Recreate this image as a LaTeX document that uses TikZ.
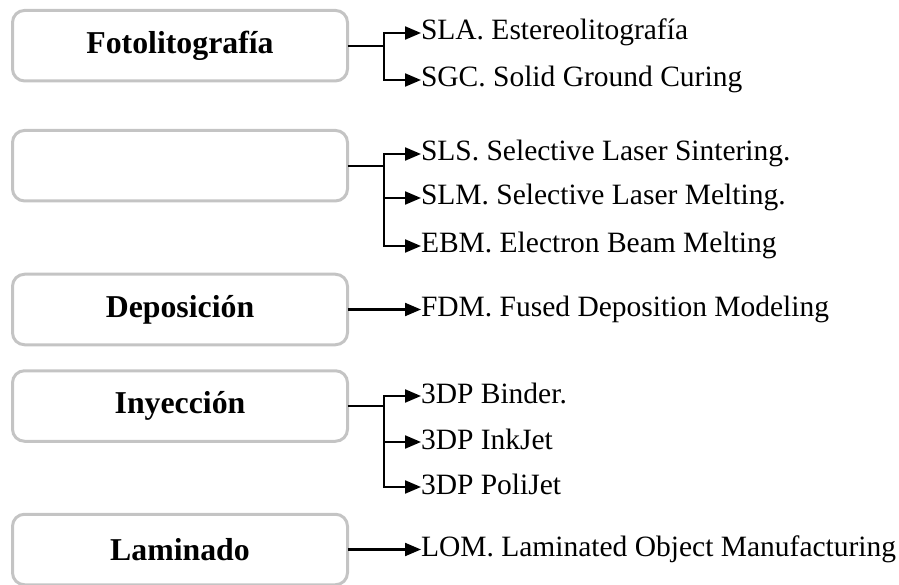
\documentclass[tikz,border=0pt]{standalone}
\usepackage{fontspec}
\setmainfont{Liberation Serif}
\usetikzlibrary{arrows.meta}
\definecolor{boxgray}{RGB}{196,196,196}
\begin{document}
\begin{tikzpicture}[x=1pt,y=-1pt,
 catbox/.style={draw=boxgray, line width=3pt, rounded corners=12pt, minimum width=335pt, minimum height=70.5pt, inner sep=0pt, outer sep=0pt, font=\fontsize{31.8}{36}\selectfont\bfseries},
 item/.style={anchor=west, inner sep=0pt, outer sep=0pt, text height=20pt, text depth=6pt, font=\fontsize{29.5}{34}\selectfont},
 conn/.style={line width=2.2pt, -{Triangle[length=16pt,width=13pt]}},
 plain/.style={line width=2.2pt}]
\useasboundingbox (0,0) rectangle (899,585);
\node[catbox] (b1) at (180,45.7) {Fotolitografía};
\node[catbox] (b2) at (180,165.7) {};
\node[catbox] (b3) at (180,309.5) {Deposición};
\node[catbox] (b4) at (180,406) {Inyección};
\node[catbox] (b5) at (180,549.5) {Laminado};
\node[item] (t11) at (421,33) {SLA. Estereolitografía};
\node[item] (t12) at (421,80) {SGC. Solid Ground Curing};
\node[item] (t21) at (421,154) {SLS. Selective Laser Sintering.};
\node[item] (t22) at (421,198) {SLM. Selective Laser Melting.};
\node[item] (t23) at (421,246) {EBM. Electron Beam Melting};
\node[item] (t31) at (421,309.5) {FDM. Fused Deposition Modeling};
\node[item] (t41) at (421,396) {3DP Binder.};
\node[item] (t42) at (421,442) {3DP InkJet};
\node[item] (t43) at (421,487) {3DP PoliJet};
\node[item] (t51) at (421,549.5) {LOM. Laminated Object Manufacturing};
\coordinate (j1) at (384,45.7);
\coordinate (j2) at (384,165.7);
\coordinate (j4) at (384,406);
\draw[plain] (b1.east) -- (j1);
\draw[conn] (j1) |- (t11.west);
\draw[conn] (j1) |- (t12.west);
\draw[plain] (b2.east) -- (j2);
\draw[conn] (j2) |- (t21.west);
\draw[conn] (j2) |- (t22.west);
\draw[conn] (j2) |- (t23.west);
\draw[conn] (b3.east) -- (t31.west);
\draw[plain] (b4.east) -- (j4);
\draw[conn] (j4) |- (t41.west);
\draw[conn] (j4) |- (t42.west);
\draw[conn] (j4) |- (t43.west);
\draw[conn] (b5.east) -- (t51.west);
\end{tikzpicture}
\end{document}
